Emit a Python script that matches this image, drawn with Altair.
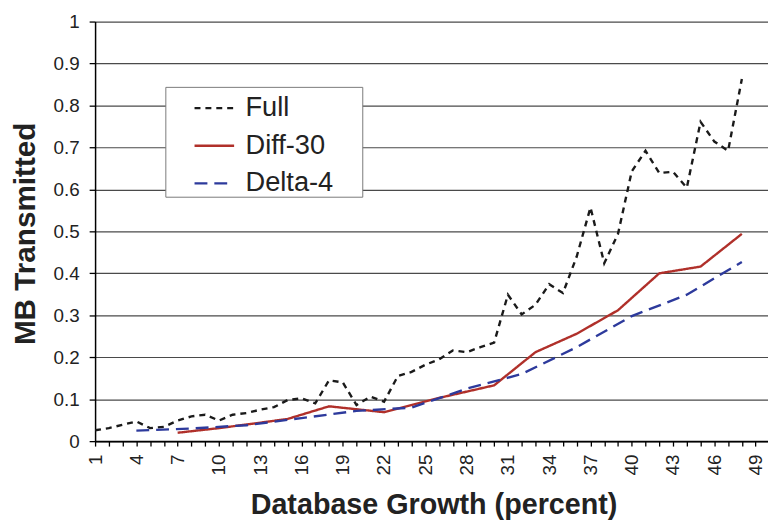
import altair as alt
import pandas as pd

# ---- data ----
series_names = ["Full", "Diff-30", "Delta-4"]

full_x = list(range(1, 49))
full_y = [0.026, 0.031, 0.039, 0.047, 0.031, 0.034, 0.049, 0.059, 0.063, 0.049,
          0.063, 0.067, 0.075, 0.081, 0.098, 0.102, 0.090, 0.145, 0.140, 0.086,
          0.106, 0.094, 0.155, 0.165, 0.182, 0.195, 0.216, 0.212, 0.224, 0.235,
          0.349, 0.302, 0.325, 0.374, 0.353, 0.440, 0.557, 0.424, 0.494, 0.643,
          0.692, 0.639, 0.642, 0.604, 0.761, 0.714, 0.692, 0.863]

diff_x = [7, 10, 13, 15, 18, 22, 26, 30, 33, 36, 39, 42, 45, 48]
diff_y = [0.020, 0.031, 0.044, 0.053, 0.083, 0.069, 0.103, 0.133, 0.212, 0.256,
          0.312, 0.400, 0.416, 0.494]

delta_x = [4, 8, 12, 16, 20, 24, 28, 32, 36, 40, 44, 48]
delta_y = [0.025, 0.030, 0.038, 0.055, 0.072, 0.080, 0.125, 0.160, 0.224, 0.298,
           0.349, 0.427]

x_tick_values = list(range(1, 50))
y_tick_values = [0, 0.1, 0.2, 0.3, 0.4, 0.5, 0.6, 0.7, 0.8, 0.9, 1.0]

rows = []
for name, xs, ys in [("Full", full_x, full_y), ("Diff-30", diff_x, diff_y),
                     ("Delta-4", delta_x, delta_y)]:
    for xv, yv in zip(xs, ys):
        rows.append({"series": name, "growth": xv, "mb": yv})
df = pd.DataFrame(rows)

FONT = "Liberation Sans"
colors = ["#1a1a1a", "#b0302a", "#2d3a9c"]
dashes = [[6, 5], [1, 0], [13, 7]]

legend = alt.Legend(
    title="\u00a0", titleOrient="right", titleFontSize=20, titlePadding=29,
    orient="none", legendX=71, legendY=66,
    fillColor="white", strokeColor="#7a7a7a",
    padding=0, symbolType="stroke", symbolSize=1600, symbolStrokeWidth=2.4,
    symbolOffset=28, labelOffset=10, rowPadding=3,
    labelFont=FONT, labelFontSize=27.5, labelColor="#222222",
)

chart = alt.Chart(df).mark_line(strokeWidth=2.4).encode(
    x=alt.X("growth:Q",
            scale=alt.Scale(domain=[1, 49.9], nice=False, zero=False),
            axis=alt.Axis(values=x_tick_values,
                          labelExpr="(datum.value - 1) % 3 == 0 ? datum.label : ''",
                          labelAngle=270, grid=False, tickSize=5, labelPadding=8,
                          labelOverlap=False, labelFlush=False,
                          domainWidth=2, tickWidth=1.3,
                          title="Database Growth (percent)", titleFontSize=29,
                          titleX=342, titleY=73, titleBaseline="alphabetic")),
    y=alt.Y("mb:Q",
            scale=alt.Scale(domain=[0, 1], nice=False),
            axis=alt.Axis(values=y_tick_values, format=".1~f", grid=True,
                          tickSize=6, labelPadding=10, domainWidth=1.5, tickWidth=1.3,
                          title="MB Transmitted", titleFontSize=30,
                          titleX=-61, titleY=214,
                          titleAngle=270, titleBaseline="alphabetic")),
    color=alt.Color("series:N", scale=alt.Scale(domain=series_names, range=colors),
                    legend=legend),
    strokeDash=alt.StrokeDash("series:N",
                              scale=alt.Scale(domain=series_names, range=dashes),
                              legend=legend),
).properties(
    width=680, height=424,
    autosize=alt.AutoSizeParams(type="none"),
    padding={"left": 88, "top": 11, "right": 0, "bottom": 78},
).configure_axis(
    labelFont=FONT, labelFontSize=19, labelColor="#222222",
    titleFont=FONT, titleFontWeight="bold", titleColor="#222222",
    domainColor="black", tickColor="black",
    gridColor="#4a4a4a", gridWidth=1.2,
).configure_view(stroke=None)

chart.save("out.html", embed_options={"renderer": "svg", "actions": False})
